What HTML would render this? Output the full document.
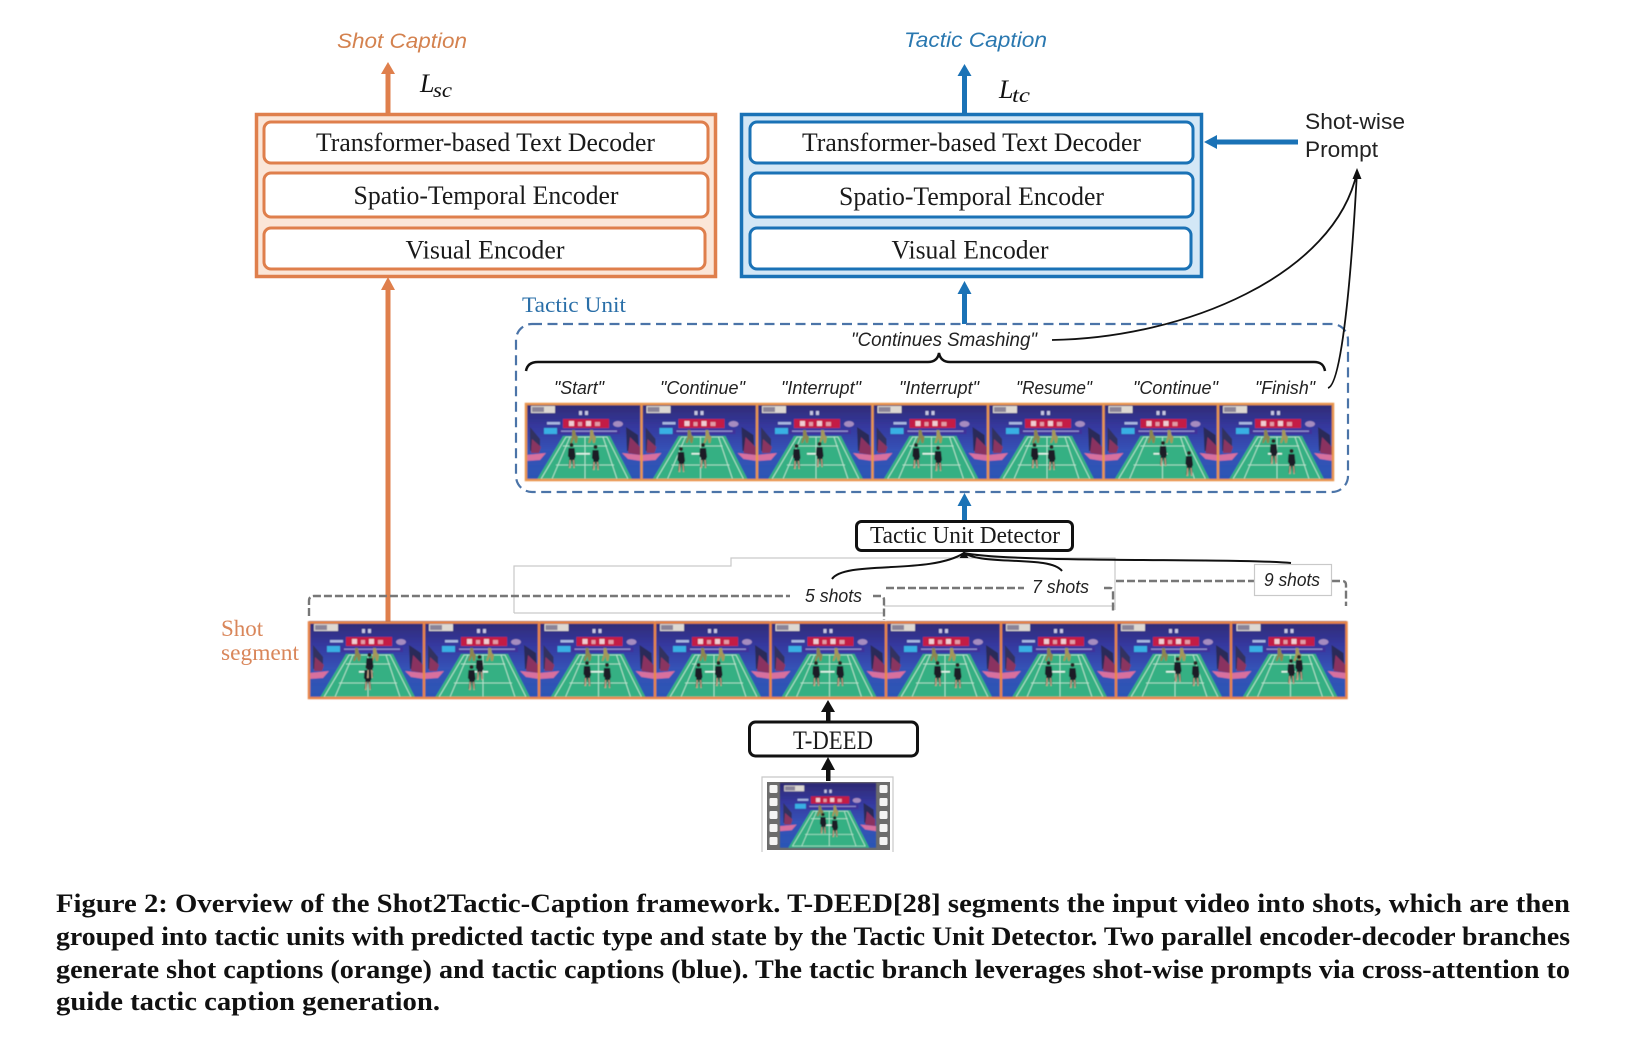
<!DOCTYPE html>
<html><head><meta charset="utf-8"><style>
html,body{margin:0;padding:0;background:#fff;width:1626px;height:1047px;overflow:hidden}
svg{display:block}
.s{font-family:"Liberation Serif",serif}
.a{font-family:"Liberation Sans",sans-serif}
.c{font-family:"Liberation Serif",serif;font-weight:bold;font-size:26.5px;fill:#111}
.lab{font-family:"Liberation Sans",sans-serif;font-style:italic;font-size:18.5px;fill:#222}
.box{font-family:"Liberation Serif",serif;font-size:26px;fill:#1a1a1a}
</style></head><body>
<svg width="1626" height="1047" viewBox="0 0 1626 1047" xmlns="http://www.w3.org/2000/svg">
<defs>
<filter id="b" x="-5%" y="-5%" width="110%" height="110%"><feGaussianBlur stdDeviation="0.5"/></filter>
<linearGradient id="bg" x1="0" y1="0" x2="0" y2="1"><stop offset="0" stop-color="#2e2a72"/><stop offset=".3" stop-color="#35389e"/><stop offset=".6" stop-color="#3452b6"/><stop offset="1" stop-color="#2b55b5"/></linearGradient>
<g id="f">
<rect width="115" height="78" fill="url(#bg)"/>
<rect x="5" y="3" width="24" height="7" fill="#ddd8d2"/><rect x="6" y="4" width="12" height="5" fill="#8a8498"/>
<rect x="53" y="8" width="3" height="4" fill="#c5c5e2"/><rect x="59" y="8" width="3" height="4" fill="#c5c5e2"/>
<rect x="37" y="16" width="46" height="9" fill="#c41c44"/>
<rect x="43" y="18" width="5" height="5" fill="#f0ccd2"/><rect x="52" y="19" width="4" height="4" fill="#e29aa6"/><rect x="60" y="18" width="5" height="5" fill="#f0ccd2"/><rect x="69" y="19" width="5" height="4" fill="#e29aa6"/>
<rect x="21" y="19" width="13" height="2.5" fill="#a8b6e0"/>
<ellipse cx="92" cy="21" rx="5" ry="3" fill="#a68cc0"/>
<rect x="18" y="25" width="13" height="6" fill="#38b0e4"/>
<rect x="32" y="26" width="62" height="5" fill="#40309a"/><rect x="35" y="27.500" width="56" height="1.400" fill="#9090cc"/>
<path d="M4 24L14 36 14 48H4Z" fill="#33305e"/><path d="M6 36L15 44 13 50H5Z" fill="#8a3560"/>
<path d="M100 24L112 32 113 48 101 48Z" fill="#2a2c58"/><path d="M104 34L114 44 114 52 102 50Z" fill="#8a3060"/>
<path d="M0 52L20 50 14 57 0 58Z" fill="#d8709e"/><path d="M96 50L115 52 115 58 102 56Z" fill="#d8709e"/>
<path d="M37 33H84L107 78H10Z" fill="#35b083"/>
<path d="M40 34H81L102 76H15ZM44 34L26 76M77 34L91 76M30 62H88M37 43H81M59 34V76" fill="none" stroke="#c6ecd9" stroke-width=".8"/>
<rect x="50" y="50" width="14" height="1.600" fill="#e4f4ec"/>
<path d="M46 27l3 0 1 5 2 2-1 6h-2l-1-5-2 5h-2l2-7z" fill="#8d8650"/>
<path d="M64 27l3 0 1 5 2 2-1 6h-2l-1-5-2 5h-2l2-7z" fill="#a4985a"/>
</g>
<g id="p"><circle cx="3.500" cy="0" r="2" fill="#2a2024"/><path d="M.5 3h6l1 9-1 2 .5 8-1.800 0-1.300-8-1.500 8-1.800 0 .8-9-1.500-2z" fill="#1c1d28"/><path d="M1.500 15h1.200v8h-1.700zM5 15h1.200l.5 8h-1.200z" fill="#c8a888"/></g>
<g id="h"><rect x="-4" y="-4" width="8" height="8" rx="1.200" fill="#f4f4f4"/></g>
</defs>

<text class="a" x="337" y="48" font-size="21.500" font-style="italic" fill="#d4824f" textLength="130" lengthAdjust="spacingAndGlyphs">Shot Caption</text>
<text class="a" x="904" y="47" font-size="21.500" font-style="italic" fill="#2a78b0" textLength="143" lengthAdjust="spacingAndGlyphs">Tactic Caption</text>
<text class="s" x="420" y="92" font-size="26" font-style="italic" fill="#111">L</text><text class="s" x="433" y="97" font-size="21" font-style="italic" fill="#111" textLength="19" lengthAdjust="spacingAndGlyphs">sc</text>
<text class="s" x="999" y="98" font-size="26" font-style="italic" fill="#111">L</text><text class="s" x="1012" y="102" font-size="21" font-style="italic" fill="#111" textLength="18" lengthAdjust="spacingAndGlyphs">tc</text>

<!-- Orange block -->
<rect x="256.500" y="114.500" width="459" height="162" fill="#fbe6d8" stroke="#df7f4c" stroke-width="3.500"/>
<rect x="264" y="122" width="444" height="41" rx="7" fill="#fff" stroke="#df7f4c" stroke-width="3"/>
<rect x="264" y="173" width="444" height="44" rx="7" fill="#fff" stroke="#df7f4c" stroke-width="3"/>
<rect x="264" y="228" width="441" height="41" rx="7" fill="#fff" stroke="#df7f4c" stroke-width="3"/>
<text class="box" x="316" y="151" textLength="339" lengthAdjust="spacingAndGlyphs">Transformer-based Text Decoder</text>
<text class="box" x="353.500" y="204" textLength="265" lengthAdjust="spacingAndGlyphs">Spatio-Temporal Encoder</text>
<text class="box" x="405.500" y="258.500" textLength="159" lengthAdjust="spacingAndGlyphs">Visual Encoder</text>

<!-- Blue block -->
<rect x="741.500" y="114.500" width="460" height="162" fill="#d3e7f6" stroke="#1a72b6" stroke-width="3.500"/>
<rect x="750" y="122" width="443" height="41" rx="7" fill="#fff" stroke="#1a72b6" stroke-width="3"/>
<rect x="750" y="173" width="443" height="44" rx="7" fill="#fff" stroke="#1a72b6" stroke-width="3"/>
<rect x="750" y="228" width="441" height="41" rx="7" fill="#fff" stroke="#1a72b6" stroke-width="3"/>
<text class="box" x="802" y="151" textLength="339" lengthAdjust="spacingAndGlyphs">Transformer-based Text Decoder</text>
<text class="box" x="839" y="205" textLength="265" lengthAdjust="spacingAndGlyphs">Spatio-Temporal Encoder</text>
<text class="box" x="891.500" y="258.500" textLength="157" lengthAdjust="spacingAndGlyphs">Visual Encoder</text>

<!-- Thick arrows -->
<g fill="#df7f4c"><rect x="385.500" y="72" width="5" height="42"/><path d="M388 62l7 12h-14z"/><rect x="385.500" y="289" width="5" height="333"/><path d="M388 277l7 13h-14z"/></g>
<g fill="#1a72b6"><rect x="962" y="74" width="5" height="40"/><path d="M964.500 64l7 12h-14z"/><rect x="962" y="292" width="5" height="32"/><path d="M964.500 281l7 13h-14z"/><rect x="1215" y="139.500" width="83" height="5"/><path d="M1204 142l13-7v14z"/><rect x="962" y="504" width="5" height="16"/><path d="M964.500 493l7 13h-14z"/></g>

<text class="a" x="1305" y="129" font-size="22" fill="#222" textLength="100" lengthAdjust="spacingAndGlyphs">Shot-wise</text>
<text class="a" x="1305" y="157" font-size="22" fill="#222" textLength="73" lengthAdjust="spacingAndGlyphs">Prompt</text>

<text class="s" x="522" y="312" font-size="22.500" fill="#2a6fa8" textLength="104" lengthAdjust="spacingAndGlyphs">Tactic Unit</text>

<rect x="516" y="324" width="832" height="168" rx="16" fill="none" stroke="#4b74a8" stroke-width="2.200" stroke-dasharray="10 5.500"/>

<text class="lab" x="851" y="346" textLength="186" lengthAdjust="spacingAndGlyphs" style="font-size:19.500px">"Continues Smashing"</text>
<path d="M1052 340C1185 338 1335 275 1357 172" fill="none" stroke="#111" stroke-width="1.800"/>
<path d="M1328 388C1340 385 1350 300 1357 172" fill="none" stroke="#111" stroke-width="1.800"/>
<path d="M1357 168l4.500 11h-9z" fill="#111"/>
<path d="M526 371C527 365 531 362 538 362H928C934 362 938 359 939 353C940 359 944 362 950 362H1314C1321 362 1324 365 1325 371" fill="none" stroke="#111" stroke-width="2.500"/>

<text class="lab" x="554" y="394" textLength="50" lengthAdjust="spacingAndGlyphs">"Start"</text>
<text class="lab" x="660" y="394" textLength="85" lengthAdjust="spacingAndGlyphs">"Continue"</text>
<text class="lab" x="781" y="394" textLength="80" lengthAdjust="spacingAndGlyphs">"Interrupt"</text>
<text class="lab" x="899" y="394" textLength="80" lengthAdjust="spacingAndGlyphs">"Interrupt"</text>
<text class="lab" x="1016" y="394" textLength="76" lengthAdjust="spacingAndGlyphs">"Resume"</text>
<text class="lab" x="1133" y="394" textLength="85" lengthAdjust="spacingAndGlyphs">"Continue"</text>
<text class="lab" x="1255" y="394" textLength="60" lengthAdjust="spacingAndGlyphs">"Finish"</text>

<!-- Top frames -->
<g filter="url(#b)">
<g transform="translate(526,403)"><use href="#f"/><use href="#p" x="42" y="42"/><use href="#p" x="66" y="44"/></g>
<g transform="translate(641.500,403)"><use href="#f"/><use href="#p" x="36" y="46"/><use href="#p" x="58" y="42"/></g>
<g transform="translate(757,403)"><use href="#f"/><use href="#p" x="36" y="43"/><use href="#p" x="59" y="41"/></g>
<g transform="translate(872.500,403)"><use href="#f"/><use href="#p" x="40" y="42"/><use href="#p" x="62" y="45"/></g>
<g transform="translate(988,403)"><use href="#f"/><use href="#p" x="43" y="42"/><use href="#p" x="60" y="44"/></g>
<g transform="translate(1103.500,403)"><use href="#f"/><use href="#p" x="56" y="40"/><use href="#p" x="82" y="50"/></g>
<g transform="translate(1218,403)"><use href="#f"/><use href="#p" x="52" y="38"/><use href="#p" x="70" y="48"/></g>
<path d="M526 404H1333V480H526ZM641.500 404V480M757 404V480M872.500 404V480M988 404V480M1103.500 404V480M1218 404V480" fill="none" stroke="#e9954f" stroke-width="2.500"/>
</g>

<!-- Tactic Unit Detector -->
<rect x="856.500" y="521.500" width="216" height="29" rx="5" fill="#fff" stroke="#111" stroke-width="3"/>
<text class="box" x="870" y="543" textLength="190" lengthAdjust="spacingAndGlyphs" style="font-size:24.500px">Tactic Unit Detector</text>

<path d="M514 613V566H731V558H1115V610M514 613H884M884 606H1115" fill="none" stroke="#c9c9c9" stroke-width="1.200"/>

<g fill="none" stroke="#777" stroke-width="2.400" stroke-dasharray="8 3">
<path d="M309 616V601Q309 596 314 596H790"/><path d="M873 596H881Q884 596 884 600V620"/>
<path d="M886 588H1024"/><path d="M1104 588H1110Q1113 588 1113 592V612"/>
<path d="M1116 581H1254"/><path d="M1332 581H1342Q1346 581 1346 585V606"/>
</g>
<rect x="1254.500" y="564.500" width="77" height="31" fill="#fff" stroke="#c9c9c9" stroke-width="1.200"/>
<text class="lab" x="805" y="602" textLength="57" lengthAdjust="spacingAndGlyphs">5 shots</text>
<text class="lab" x="1032" y="593" textLength="57" lengthAdjust="spacingAndGlyphs">7 shots</text>
<text class="lab" x="1264" y="586" textLength="56" lengthAdjust="spacingAndGlyphs">9 shots</text>

<path d="M832 579C845 560 930 575 964 553M1062 571C1050 555 985 566 964 553M1291 563C1240 558 1010 563 964 553" fill="none" stroke="#111" stroke-width="2"/>
<path d="M964 551l4.500 7h-9z" fill="#111"/>

<text class="s" x="221" y="636" font-size="23" fill="#d9865a">Shot</text>
<text class="s" x="221" y="660" font-size="23" fill="#d9865a" textLength="78" lengthAdjust="spacingAndGlyphs">segment</text>

<!-- Bottom frames -->
<g filter="url(#b)">
<g transform="translate(309,621)"><use href="#f"/><use href="#p" x="55" y="46"/><use href="#p" x="57" y="34"/></g>
<g transform="translate(424,621)"><use href="#f"/><use href="#p" x="44" y="46"/><use href="#p" x="52" y="36"/></g>
<g transform="translate(539.500,621)"><use href="#f"/><use href="#p" x="44" y="42"/><use href="#p" x="64" y="44"/></g>
<g transform="translate(655,621)"><use href="#f"/><use href="#p" x="40" y="44"/><use href="#p" x="60" y="42"/></g>
<g transform="translate(770.500,621)"><use href="#f"/><use href="#p" x="42" y="42"/><use href="#p" x="66" y="42"/></g>
<g transform="translate(886,621)"><use href="#f"/><use href="#p" x="48" y="42"/><use href="#p" x="68" y="44"/></g>
<g transform="translate(1001,621)"><use href="#f"/><use href="#p" x="44" y="42"/><use href="#p" x="68" y="44"/></g>
<g transform="translate(1116,621)"><use href="#f"/><use href="#p" x="58" y="38"/><use href="#p" x="76" y="42"/></g>
<g transform="translate(1231.500,621)"><use href="#f"/><use href="#p" x="56" y="40"/><use href="#p" x="64" y="36"/></g>
<path d="M309 622.500H1346.500V698H309ZM424 622.500V698M539 622.500V698M655 622.500V698M770.500 622.500V698M886 622.500V698M1001 622.500V698M1116 622.500V698M1231 622.500V698" fill="none" stroke="#e8864a" stroke-width="2.500"/>
</g>

<!-- T-DEED -->
<rect x="749.500" y="722" width="168" height="34" rx="6" fill="#fff" stroke="#111" stroke-width="3"/>
<text class="box" x="793" y="749" textLength="80" lengthAdjust="spacingAndGlyphs">T-DEED</text>

<!-- Film -->
<path d="M762 852V777H893V852" fill="none" stroke="#c8c8c8" stroke-width="1.200"/>
<rect x="767" y="782" width="123" height="68" fill="#6c6c6c"/>
<g filter="url(#b)"><g transform="translate(780,783) scale(.835,.83)"><use href="#f"/><use href="#p" x="48" y="38"/><use href="#p" x="62" y="42"/></g></g>
<use href="#h" x="773.500" y="789"/><use href="#h" x="773.500" y="802"/><use href="#h" x="773.500" y="815"/><use href="#h" x="773.500" y="828"/><use href="#h" x="773.500" y="841"/><use href="#h" x="883.500" y="789"/><use href="#h" x="883.500" y="802"/><use href="#h" x="883.500" y="815"/><use href="#h" x="883.500" y="828"/><use href="#h" x="883.500" y="841"/>

<g fill="#111"><rect x="826" y="710" width="4.500" height="12"/><path d="M828 700l7 12h-14z"/><rect x="826" y="768" width="4.500" height="13"/><path d="M828 757l7 13h-14z"/></g>

<!-- Caption -->
<text class="c" x="56" y="912" textLength="1514" lengthAdjust="spacingAndGlyphs">Figure 2: Overview of the Shot2Tactic-Caption framework. T-DEED[28] segments the input video into shots, which are then</text>
<text class="c" x="56" y="945" textLength="1514" lengthAdjust="spacingAndGlyphs">grouped into tactic units with predicted tactic type and state by the Tactic Unit Detector. Two parallel encoder-decoder branches</text>
<text class="c" x="56" y="978" textLength="1514" lengthAdjust="spacingAndGlyphs">generate shot captions (orange) and tactic captions (blue). The tactic branch leverages shot-wise prompts via cross-attention to</text>
<text class="c" x="56" y="1010" textLength="384" lengthAdjust="spacingAndGlyphs">guide tactic caption generation.</text>
</svg>
</body></html>
